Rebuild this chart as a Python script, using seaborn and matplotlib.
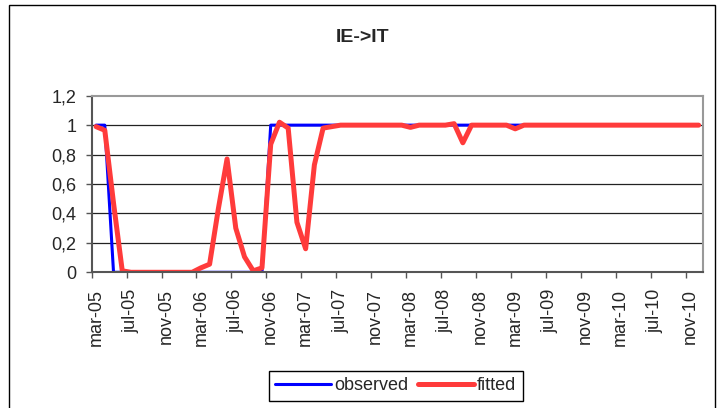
import matplotlib
matplotlib.use("Agg")
import matplotlib.pyplot as plt
from matplotlib.patches import Rectangle
import numpy as np
import pandas as pd
import seaborn as sns

sns.set_style("white")
plt.rcParams['font.family'] = ['Liberation Sans', 'DejaVu Sans']

# monthly values, mar-05 .. dec-10 (70 months)
observed = [1, 1,
            0, 0, 0, 0, 0, 0, 0, 0, 0, 0, 0, 0, 0, 0, 0, 0, 0, 0,
            1, 1, 1, 1, 1, 1, 1, 1, 1, 1, 1, 1, 1, 1, 1, 1, 1, 1, 1, 1,
            1, 1, 1, 1, 1, 1, 1, 1, 1, 1, 1, 1, 1, 1, 1, 1, 1, 1, 1, 1,
            1, 1, 1, 1, 1, 1, 1, 1, 1, 1]
fitted = [0.99, 0.965, 0.47, 0.01, 0.0, 0.0, 0.0, 0.0, 0.0, 0.0,
          0.0, 0.0, 0.03, 0.055, 0.43, 0.77, 0.30, 0.105, 0.01, 0.03,
          0.87, 1.02, 0.98, 0.34, 0.16, 0.73, 0.98, 0.99, 1.0, 1.0,
          1.0, 1.0, 1.0, 1.0, 1.0, 1.0, 0.985, 1.0, 1.0, 1.0,
          1.0, 1.01, 0.88, 1.0, 1.0, 1.0, 1.0, 1.0, 0.975, 1.0,
          1.0, 1.0, 1.0, 1.0, 1.0, 1.0, 1.0, 1.0, 1.0, 1.0,
          1.0, 1.0, 1.0, 1.0, 1.0, 1.0, 1.0, 1.0, 1.0, 1.0]
tick_labels = ['mar-05', 'jul-05', 'nov-05', 'mar-06', 'jul-06', 'nov-06',
               'mar-07', 'jul-07', 'nov-07', 'mar-08', 'jul-08', 'nov-08',
               'mar-09', 'jul-09', 'nov-09', 'mar-10', 'jul-10', 'nov-10']
y_labels = ['0', '0,2', '0,4', '0,6', '0,8', '1', '1,2']

n = len(observed)
df = pd.DataFrame({'pos': np.arange(n) + 0.5,
                   'observed': observed, 'fitted': fitted})

fig = plt.figure(figsize=(7.26, 4.08), dpi=100)
ax = fig.add_axes([0.1263, 0.3326, 0.9683 - 0.1263, 0.7654 - 0.3326])

sns.lineplot(data=df, x='pos', y='observed', ax=ax, color='#0000ff',
             lw=2.2, label='observed')
sns.lineplot(data=df, x='pos', y='fitted', ax=ax, color='#ff3b3b',
             lw=3.6, label='fitted', solid_joinstyle='round')

ax.set_xlim(0, n)
ax.set_ylim(0, 1.2)
ax.set_xlabel('')
ax.set_ylabel('')

# horizontal gridlines
for yv in [0.2, 0.4, 0.6, 0.8, 1.0]:
    ax.axhline(yv, color='#222222', lw=0.9, zorder=0)

ax.set_yticks([0, 0.2, 0.4, 0.6, 0.8, 1.0, 1.2])
ax.set_yticklabels(y_labels, fontsize=13)
ax.tick_params(axis='y', direction='out', length=4.5, width=1,
               color='#555555', pad=6.5, left=True)

ax.set_xticks(np.arange(0, n - 1, 4))
ax.set_xticklabels([])
ax.set_xticks(np.arange(0, n - 1, 4) + 0.5, minor=True)
ax.set_xticklabels(tick_labels, minor=True, rotation=90, fontsize=13)
ax.tick_params(axis='x', which='major', direction='out', length=4.5,
               width=1, color='#555555', bottom=True)
ax.tick_params(axis='x', which='minor', length=0, pad=12)

for side in ['left', 'bottom']:
    ax.spines[side].set_color('#555555')
    ax.spines[side].set_linewidth(1.5)
for side in ['top', 'right']:
    ax.spines[side].set_color('#999999')
    ax.spines[side].set_linewidth(1.5)

ax.get_legend().remove()
handles, labels = ax.get_legend_handles_labels()
fig.legend(handles, labels, loc='center', bbox_to_anchor=(0.545, 0.054),
           ncol=2, fontsize=13, frameon=True, fancybox=False,
           edgecolor='black', handlelength=3.1, handletextpad=0.2,
           columnspacing=0.5, borderpad=0.35, framealpha=1)

fig.text(0.5, 0.907, 'IE->IT', ha='center', va='center',
         fontsize=14, fontweight='bold')

# outer chart border
fig.patches.append(Rectangle((8.5 / 726, -0.1), (714.5 - 8.5) / 726,
                             1.1 - 5.5 / 408, transform=fig.transFigure,
                             fill=False, edgecolor='black', lw=1))

fig.savefig('out.png', dpi=100)
